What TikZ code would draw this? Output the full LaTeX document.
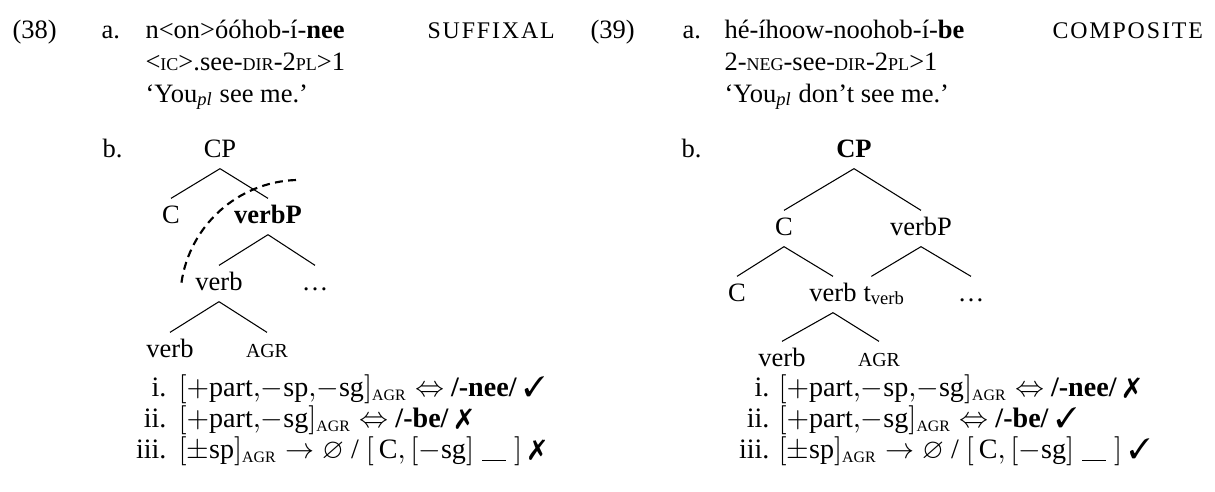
\documentclass[tikz,border=0pt]{standalone}
\usepackage{fontspec}
\setmainfont{Liberation Serif}
\usepackage{amssymb}
\usepackage{pifont}

\newcommand\petitcap[1]{{\fontsize{6.8}{8}\selectfont\MakeUppercase{#1}}}
\newcommand\etiq[1]{{\fontsize{9}{10}\selectfont\addfontfeatures{LetterSpace=8}\MakeUppercase{#1}}}
\newcommand\agrarbre{{\fontsize{7.5}{9}\selectfont AGR}}
\newcommand\agrsub{\mbox{\fontsize{6}{7}\selectfont AGR}}
\newcommand\trou{\rule[-1.2pt]{9pt}{0.4pt}}

% Regles
\newcommand\rnee{$[{+}\textrm{part}{,}{-}\textrm{sp}{,}{-}\textrm{sg}]_{\agrsub}\Leftrightarrow$ \textbf{/-nee/}}
\newcommand\rbe{$[{+}\textrm{part}{,}{-}\textrm{sg}]_{\agrsub}\Leftrightarrow$ \textbf{/-be/}}
\newcommand\rsp{$[\pm\textrm{sp}]_{\agrsub}\rightarrow\varnothing$ / $[\,\textrm{C},[{-}\textrm{sg}]\;\trou\;]$}
\newcommand\oui{\ding{51}}
\newcommand\non{\ding{55}}

\begin{document}
\begin{tikzpicture}[x=0.3774pt, y=-0.3774pt,
  texte/.style={anchor=base west, inner sep=0pt},
  regle/.style={texte, font=\fontsize{10.6}{12.5}\selectfont, text height=7.4pt, text depth=2.4pt},
  numero/.style={anchor=base east, inner sep=0pt, font=\fontsize{10.6}{12.5}\selectfont, text height=7.4pt, text depth=2.4pt},
  noeud/.style={anchor=base, inner sep=0pt, text height=9.1pt, text depth=4.2pt},
  branche/.style={line width=0.4pt},
  coupe/.style={line width=0.8pt, dash pattern=on 3pt off 2pt}]

% Paramètres
\def\ligneA{38}
\def\ligneB{70}
\def\ligneC{102}
\def\ligneD{157}
\def\rgi{396}
\def\rgii{427}
\def\rgiii{458}

\useasboundingbox (0,0) rectangle (1215,491);

% Exemple (38)
\node[texte] (num38) at (12,\ligneA) {(38)};
\node[texte] (a38) at (101,\ligneA) {a.};
\node[texte] (mot38) at (145,\ligneA) {n<on>óóhob-í-\textbf{nee}};
\node[texte] (type38) at (427,\ligneA) {\etiq{suffixal}};
\node[texte] (glose38) at (145,\ligneB) {<\petitcap{ic}>.see-\petitcap{dir}-2\petitcap{pl}>1};
\node[texte] (trad38) at (145,\ligneC) {`You\textsubscript{\itshape pl} see me.'};
\node[texte] (b38) at (102,\ligneD) {b.};

% Arbre (38)
\node[noeud] (cp38) at (220,157) {CP};
\node[noeud] (c38) at (171,223) {C};
\node[noeud] (vp38) at (268,223) {\textbf{verbP}};
\node[noeud] (v38) at (219,290) {verb};
\node[noeud] (pts38) at (315,290) {\dots};
\node[noeud] (vb38) at (170,357) {verb};
\node[noeud] (agr38) at (267,357) {\agrarbre};

\draw[branche] (cp38.south) -- (c38.north);
\draw[branche] (cp38.south) -- (vp38.north);
\draw[branche] (vp38.south) -- (v38.north);
\draw[branche] (vp38.south) -- (pts38.north);
\draw[branche] (v38.south) -- (vb38.north);
\draw[branche] (v38.south) -- (agr38.north);

% Frontiere
\draw[coupe] (296,180) arc[start angle=-92, end angle=-172, radius=120];

% Regles (38)
\node[numero] (i38) at (167,\rgi) {i.};
\node[numero] (ii38) at (167,\rgii) {ii.};
\node[numero] (iii38) at (167,\rgiii) {iii.};
\node[regle] (ri38) at (178,\rgi) {\rnee\ \oui};
\node[regle] (rii38) at (178,\rgii) {\rbe\ \non};
\node[regle] (riii38) at (178,\rgiii) {\rsp\ \non};

% Exemple (39)
\node[texte] (num39) at (590,\ligneA) {(39)};
\node[texte] (a39) at (682,\ligneA) {a.};
\node[texte] (mot39) at (724,\ligneA) {hé-íhoow-noohob-í-\textbf{be}};
\node[texte] (type39) at (1052,\ligneA) {\etiq{composite}};
\node[texte] (glose39) at (724,\ligneB) {2-\petitcap{neg}-see-\petitcap{dir}-2\petitcap{pl}>1};
\node[texte] (trad39) at (724,\ligneC) {`You\textsubscript{\itshape pl} don't see me.'};
\node[texte] (b39) at (681,\ligneD) {b.};

% Arbre (39)
\node[noeud] (cp39) at (854,157) {\textbf{CP}};
\node[noeud] (c39) at (784,235) {C};
\node[noeud] (vp39) at (921,235) {verbP};
\node[noeud] (cb39) at (737,301) {C};
\node[noeud] (v39) at (833,301) {verb};
\node[noeud, anchor=base west] (tv39) at (863,301) {t\textsubscript{verb}};
\node[noeud] (pts39) at (971,301) {\dots};
\node[noeud] (vb39) at (782,366) {verb};
\node[noeud] (agr39) at (879,366) {\agrarbre};

\draw[branche] (cp39.south) -- (c39.north);
\draw[branche] (cp39.south) -- (vp39.north);
\draw[branche] (c39.south) -- (cb39.north);
\draw[branche] (c39.south) -- (v39.north);
\draw[branche] (vp39.south) -- ([xshift=-4.9pt]tv39.north);
\draw[branche] (vp39.south) -- (pts39.north);
\draw[branche] (v39.south) -- (vb39.north);
\draw[branche] (v39.south) -- (agr39.north);

% Regles (39)
\node[numero] (i39) at (770,\rgi) {i.};
\node[numero] (ii39) at (770,\rgii) {ii.};
\node[numero] (iii39) at (770,\rgiii) {iii.};
\node[regle] (ri39) at (778,\rgi) {\rnee\ \non};
\node[regle] (rii39) at (778,\rgii) {\rbe\ \oui};
\node[regle] (riii39) at (778,\rgiii) {\rsp\ \oui};
\end{tikzpicture}
\end{document}
